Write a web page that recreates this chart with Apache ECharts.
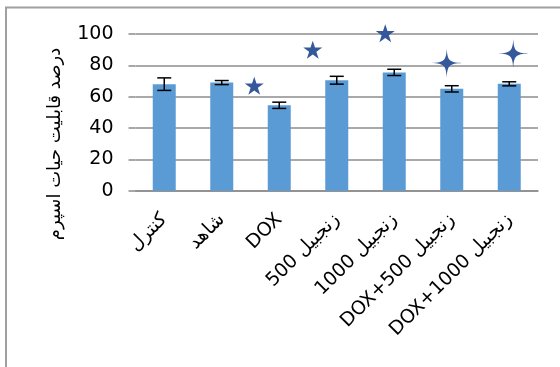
<!DOCTYPE html>
<html>
<head>
<meta charset="utf-8">
<script src="https://cdn.jsdelivr.net/npm/echarts@6/dist/echarts.min.js"></script>
<style>
  html, body { margin: 0; padding: 0; background: #fff; }
  #chart { width: 560px; height: 367px; }
</style>
</head>
<body>
<div id="chart"></div>
<script>
// داده‌ها
let categories = ['کنترل', 'شاهد', 'DOX', '500 زنجبیل', '1000 زنجبیل', 'DOX+500 زنجبیل', 'DOX+1000 زنجبیل'];
let means = [68, 69, 54.5, 70.5, 75.5, 65, 68.2];
let errors = [4, 1.3, 2, 2.5, 2, 2, 1.3];
let yTicks = [0, 20, 40, 60, 80, 100];
let yTitle = 'درصد قابلیت حیات اسپرم';
// ستاره‌های معنی‌داری
let markCats = [2, 3, 4, 5, 6];
let markValues = [67, 90, 100.5, 81.5, 87.5];
let markShapes = ['star5', 'star5', 'star5', 'star4', 'star4'];

let gray = '#8c8c8c';
let starColor = '#35589a';
let star5 = 'path://M50,0 L61.2,34.5 L97.6,34.5 L68.2,55.9 L79.4,90.5 L50,69.1 L20.6,90.5 L31.8,55.9 L2.4,34.5 L38.8,34.5 Z';
let star4 = 'path://M0,-14 C0.6,-2.5 2.5,-0.6 14,0 C2.5,0.6 0.6,2.5 0,14 C-0.6,2.5 -2.5,0.6 -14,0 C-2.5,-0.6 -0.6,-2.5 0,-14 Z';
let markOffsets = [-25, -24, -9, -5, 4];

let chart = echarts.init(document.getElementById('chart'));
let option = {
  backgroundColor: '#fff',
  animation: false,
  grid: { left: 135.5, right: 22, top: 34, bottom: 176.3 },
  graphic: [
    { type: 'line', shape: { x1: 5, y1: 7.5, x2: 560, y2: 7.5 }, style: { stroke: '#a0a0a0', lineWidth: 2 } },
    { type: 'line', shape: { x1: 6, y1: 7, x2: 6, y2: 367 }, style: { stroke: '#a0a0a0', lineWidth: 2 } },
    {
      type: 'text', x: 55, y: 144, rotation: Math.PI / 2,
      style: {
        text: yTitle, fill: '#000', font: '18px "DejaVu Sans"',
        align: 'center', verticalAlign: 'middle'
      }
    }
  ],
  xAxis: {
    type: 'category',
    data: categories,
    axisLine: { lineStyle: { color: gray, width: 1.5 } },
    axisTick: { length: 8, lineStyle: { color: gray, width: 1.5 } },
    axisLabel: {
      interval: 0, rotate: 45, margin: 26,
      color: '#000', fontSize: 19, fontFamily: 'DejaVu Sans'
    }
  },
  yAxis: {
    type: 'value',
    min: yTicks[0], max: yTicks[yTicks.length - 1], interval: 20,
    axisLine: { show: false },
    axisTick: { show: true, length: 7, lineStyle: { color: gray, width: 1.5 } },
    splitLine: { lineStyle: { color: gray, width: 1.5 } },
    axisLabel: { margin: 22, color: '#000', fontSize: 19, fontFamily: 'DejaVu Sans' }
  },
  series: [
    {
      type: 'bar',
      data: means,
      barWidth: '40%',
      itemStyle: { color: '#5b9bd5' }
    },
    {
      type: 'custom',
      data: means.map((m, i) => [i, m - errors[i], m + errors[i]]),
      renderItem: function (params, api) {
        let lo = api.coord([api.value(0), api.value(1)]);
        let hi = api.coord([api.value(0), api.value(2)]);
        let w = 7;
        let st = { stroke: '#000', lineWidth: 1.5 };
        return {
          type: 'group',
          children: [
            { type: 'line', shape: { x1: lo[0], y1: lo[1], x2: hi[0], y2: hi[1] }, style: st },
            { type: 'line', shape: { x1: lo[0] - w, y1: lo[1], x2: lo[0] + w, y2: lo[1] }, style: st },
            { type: 'line', shape: { x1: hi[0] - w, y1: hi[1], x2: hi[0] + w, y2: hi[1] }, style: st }
          ]
        };
      },
      z: 5
    },
    {
      type: 'scatter',
      clip: false,
      data: markCats.map((c, i) => ({
        value: [c, markValues[i]],
        symbol: markShapes[i] === 'star5' ? star5 : star4,
        symbolSize: markShapes[i] === 'star5' ? [19, 18] : [30, 29],
        symbolOffset: [markOffsets[i], 0]
      })),
      itemStyle: { color: starColor, opacity: 1 },
      z: 6
    }
  ]
};
chart.setOption(option);
</script>
</body>
</html>
